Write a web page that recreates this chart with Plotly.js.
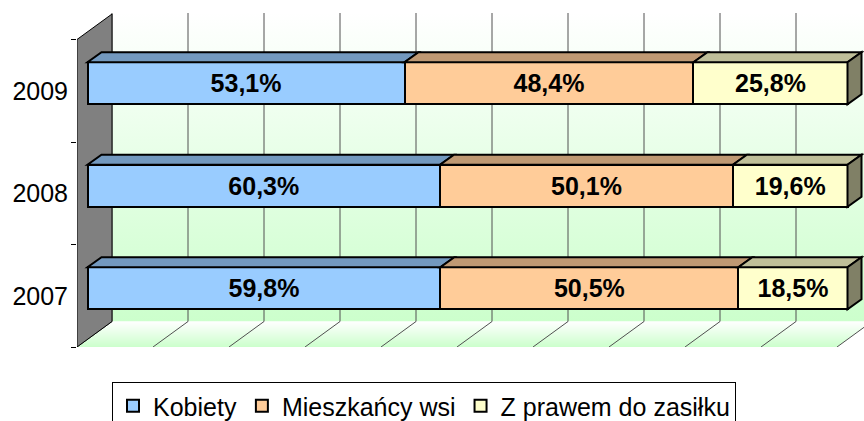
<!DOCTYPE html>
<html>
<head>
<meta charset="utf-8">
<script src="https://cdn.plot.ly/plotly-3.0.1.min.js"></script>
<style>html,body{margin:0;padding:0;background:#fff;}#chart{width:864px;height:421px;}</style>
</head>
<body>
<div id="chart"></div>
<script>
// ---- data ----
const years = ['2007', '2008', '2009'];
const seriesNames = ['Kobiety', 'Mieszkańcy wsi', 'Z prawem do zasiłku'];
const kobiety = [59.8, 60.3, 53.1];
const mieszkancy = [50.5, 50.1, 48.4];
const zasilek = [18.5, 19.6, 25.8];

// ---- styling ----
const frontColors = ['#99ccff', '#ffcc99', '#ffffcc'];
const topColors = ['#7399bf', '#bf9973', '#bfbf99'];
const sideColor = '#808066';
const FONT = 'Arial, "Liberation Sans", sans-serif';

// geometry (pixels → axis units)
const pxPerX = 7.6;          // px per percent unit
const pxPerCat = 102.5;      // px per category
const plotW = 787, plotH = 334;
const wallDX = 35 / pxPerX, wallDY = 25.5 / pxPerCat;   // wall depth
const barShiftX = 10.5 / pxPerX, barShiftY = 7.5 / pxPerCat; // bar front offset
const barDX = 14 / pxPerX, barDY = 10 / pxPerCat;       // bar depth
const barW = 0.41;
const yMin = -0.5, yMax = -0.5 + plotH / pxPerCat;
const xMax = plotW / pxPerX;

const series = [kobiety, mieszkancy, zasilek];
const totals = years.map((_, i) => series.reduce((s, a) => s + a[i], 0));
const fmt = v => v.toFixed(1).replace('.', ',') + '%';

const traces = [];
// back wall
traces.push({
  type: 'scatter', mode: 'lines', x: [wallDX, wallDX + 100, wallDX + 100, wallDX],
  y: [yMin + wallDY, yMin + wallDY, yMax, yMax], fill: 'toself',
  fillcolor: '#e6ffe6',
  fillgradient: {type: 'vertical', colorscale: [[0, '#ccffcc'], [1, '#ffffff']]},
  line: {width: 0}, showlegend: false, hoverinfo: 'skip', xaxis: 'x', yaxis: 'y'
});
// floor
traces.push({
  type: 'scatter', mode: 'lines', x: [0, 100, 100 + wallDX, wallDX],
  y: [yMin, yMin, yMin + wallDY, yMin + wallDY], fill: 'toself',
  fillcolor: '#e6ffe6',
  fillgradient: {type: 'vertical', colorscale: [[0, '#ccffcc'], [1, '#ffffff']]},
  line: {width: 0}, showlegend: false, hoverinfo: 'skip', xaxis: 'x', yaxis: 'y'
});
// gridlines on back wall and floor
const gx = [], gy = [];
for (let v = 0; v <= 100; v += 10) {
  gx.push(v + wallDX, v + wallDX, null, v + wallDX, v, null);
  gy.push(yMin + wallDY, yMax, null, yMin + wallDY, yMin, null);
}
traces.push({
  type: 'scatter', mode: 'lines', x: gx, y: gy, connectgaps: false,
  line: {color: '#505050', width: 1}, showlegend: false, hoverinfo: 'skip', xaxis: 'x', yaxis: 'y'
});
// left side wall
traces.push({
  type: 'scatter', mode: 'lines', x: [0, 0, wallDX, wallDX, 0],
  y: [yMin, 2.5, 2.5 + wallDY, yMin + wallDY, yMin], fill: 'toself',
  fillcolor: '#808080', line: {color: '#000000', width: 1},
  showlegend: false, hoverinfo: 'skip', xaxis: 'x', yaxis: 'y'
});

// bars (front faces), normalised to 100%
const yPos = years.map((_, i) => i);
series.forEach((arr, s) => {
  traces.push({
    type: 'bar', orientation: 'h', name: seriesNames[s],
    y: yPos, x: arr.map((v, i) => v / totals[i] * 100),
    text: arr.map(fmt), textposition: 'inside', insidetextanchor: 'middle',
    textangle: 0, constraintext: 'none',
    textfont: {family: FONT, size: 25, color: '#000000', weight: 'bold'},
    marker: {color: frontColors[s], line: {color: '#000000', width: 2}},
    width: barW, hoverinfo: 'skip', xaxis: 'x2', yaxis: 'y2'
  });
});

// depth faces of bars
const shapes = [];
years.forEach((_, i) => {
  let start = 0;
  const yt = i + barW / 2, yb = i - barW / 2;
  series.forEach((arr, s) => {
    const end = start + arr[i] / totals[i] * 100;
    shapes.push({
      type: 'path', xref: 'x2', yref: 'y2', layer: 'above',
      path: `M ${start},${yt} L ${end},${yt} L ${end + barDX},${yt + barDY} L ${start + barDX},${yt + barDY} Z`,
      fillcolor: topColors[s], line: {color: '#000000', width: 2}
    });
    start = end;
  });
  shapes.push({
    type: 'path', xref: 'x2', yref: 'y2', layer: 'above',
    path: `M ${start},${yb} L ${start},${yt} L ${start + barDX},${yt + barDY} L ${start + barDX},${yb + barDY} Z`,
    fillcolor: sideColor, line: {color: '#000000', width: 2}
  });
});

const layout = {
  width: 864, height: 421,
  margin: {l: 77, r: 0, t: 13, b: 74, pad: 0, autoexpand: false},
  paper_bgcolor: '#ffffff', plot_bgcolor: 'rgba(0,0,0,0)',
  barmode: 'stack', showlegend: true,
  font: {family: FONT, color: '#000000'},
  xaxis: {range: [0, xMax], visible: false, fixedrange: true},
  yaxis: {
    range: [yMin, yMax], tickmode: 'array', tickvals: yPos, ticktext: years,
    ticks: '', showgrid: false, zeroline: false, showline: false,
    tickfont: {family: FONT, size: 25, color: '#000000'}, ticklabelstandoff: 8,
    minor: {tickmode: 'array', tickvals: [-0.5, 0.5, 1.5, 2.5], ticks: 'outside', ticklen: 5,
            tickcolor: '#000000', tickwidth: 1, showgrid: false},
    fixedrange: true
  },
  xaxis2: {overlaying: 'x', range: [-barShiftX, xMax - barShiftX], visible: false, fixedrange: true},
  yaxis2: {overlaying: 'y', range: [yMin - barShiftY, yMax - barShiftY], visible: false, fixedrange: true},
  legend: {
    orientation: 'h', x: 35 / plotW, y: -35 / plotH, xanchor: 'left', yanchor: 'top',
    bordercolor: '#000000', borderwidth: 1, bgcolor: '#ffffff',
    font: {family: FONT, size: 25, color: '#000000'}, traceorder: 'normal'
  },
  shapes: shapes
};

Plotly.newPlot('chart', traces, layout, {staticPlot: true, displayModeBar: false});
</script>
</body>
</html>
